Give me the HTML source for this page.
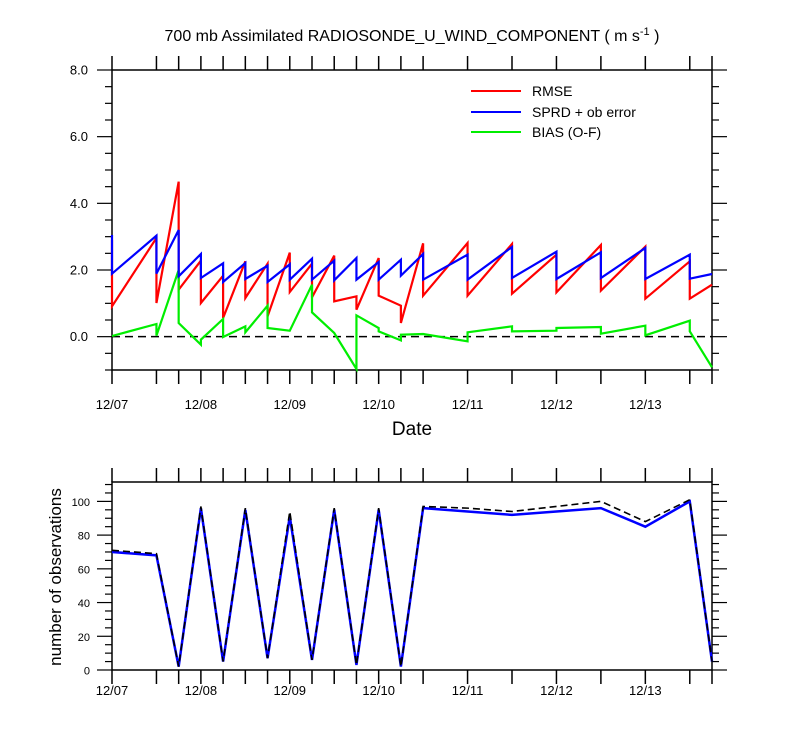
<!DOCTYPE html>
<html><head><meta charset="utf-8"><style>
body{margin:0;background:#fff;}
svg{display:block;font-family:"Liberation Sans",sans-serif;}
</style></head><body>
<svg id="chart" width="800" height="750" xmlns="http://www.w3.org/2000/svg">
<text x="412" y="41" text-anchor="middle" font-size="16">700 mb Assimilated RADIOSONDE_U_WIND_COMPONENT ( m s<tspan dy="-6" font-size="11">-1</tspan><tspan dy="6"> )</tspan></text>
<text x="412" y="435" text-anchor="middle" font-size="19">Date</text>
<text transform="translate(61,577) rotate(-90)" text-anchor="middle" font-size="17">number of observations</text>
<g id="legend">
<line x1="471" y1="91" x2="521" y2="91" stroke="#ff0000" stroke-width="2"/>
<text x="532" y="96" font-size="14">RMSE</text>
<line x1="471" y1="112" x2="521" y2="112" stroke="#0000ff" stroke-width="2"/>
<text x="532" y="117" font-size="14">SPRD + ob error</text>
<line x1="471" y1="132" x2="521" y2="132" stroke="#00ee00" stroke-width="2"/>
<text x="532" y="137" font-size="14">BIAS (O-F)</text>
</g>
</svg>
<script>
// times in hours since 12/07 00Z
const times = [0,12,18,24,30,36,42,48,54,60,66,72,78,84,96,108,120,132,144,156,162];
const rmsePrior = [2.9,2.96,4.65,2.28,1.83,2.26,2.19,2.52,2.19,2.43,1.21,2.36,0.93,2.80,2.81,2.78,2.46,2.75,2.70,2.26,1.56];
const rmsePost  = [0.91,1.01,1.41,1.01,0.56,1.16,0.61,1.34,1.18,1.06,0.81,1.23,0.41,1.23,1.23,1.29,1.33,1.38,1.14,1.14,1.56];
const sprdPrior = [3.05,3.03,3.2,2.48,2.2,2.21,2.13,2.17,2.34,2.28,2.36,2.24,2.31,2.48,2.46,2.69,2.55,2.53,2.66,2.46,1.88];
const sprdPost  = [1.89,1.89,1.81,1.76,1.64,1.73,1.64,1.71,1.71,1.69,1.71,1.71,1.83,1.71,1.71,1.76,1.73,1.76,1.73,1.74,1.88];
const biasPrior = [0.02,0.38,2.0,-0.24,0.53,0.31,0.93,0.18,1.56,0.11,-0.97,0.26,-0.11,0.08,-0.14,0.31,0.18,0.29,0.33,0.48,-0.92];
const biasPost  = [0.02,0.03,0.41,-0.09,-0.01,0.13,0.26,0.18,0.73,0.11,0.64,0.16,0.06,0.08,0.13,0.16,0.26,0.09,0.04,0.16,-0.92];
const obsUsed   = [70,68,2,96,5,95,7,91,6,95,3,95,2,96,94,92,94,96,85,100,5];
const obsTotal  = [71,69,2,97,5,96,7,94,6,96,3,96,2,97,96,94,97,100,88,101,5];
const dateLabels = ["12/07","12/08","12/09","12/10","12/11","12/12","12/13"];
const topYTicks = ["0.0","2.0","4.0","6.0","8.0"];
const botYTicks = ["0","20","40","60","80","100"];

const NS="http://www.w3.org/2000/svg";
const svg=document.getElementById('chart');
const X0=112,X1=712,HMAX=162;
const xs=h=>X0+(h/HMAX)*(X1-X0);
const T={top:70,bot:370,min:-1,max:8};
const B={top:482,bot:670,min:0,max:111.5};
const yT=v=>T.bot-(v-T.min)/(T.max-T.min)*(T.bot-T.top);
const yB=v=>B.bot-(v-B.min)/(B.max-B.min)*(B.bot-B.top);
function mk(tag,attrs,parent){const e=document.createElementNS(NS,tag);for(const k in attrs)e.setAttribute(k,attrs[k]);(parent||svg).appendChild(e);return e;}

function frame(P,yf,ticks,step,minorStep,name,fmtNum,labOff){
  const g=mk('g',{});
  
  
  const r=mk('rect',{x:X0,y:P.top,width:X1-X0,height:P.bot-P.top,fill:'none',stroke:'#000','stroke-width':1.5},g);
  
  
  for(let v=P.min;v<=P.max+1e-9;v+=minorStep){
    const vv=Math.round(v*1000)/1000;
    const y=yf(vv);
    const major=Math.abs(vv/step-Math.round(vv/step))<1e-6;
    const len=major?15:7;
    mk('line',{x1:X0-len,y1:y,x2:X0,y2:y,stroke:'#000','stroke-width':1.2},g);
    mk('line',{x1:X1,y1:y,x2:X1+len,y2:y,stroke:'#000','stroke-width':1.2},g);
  }
  ticks.forEach(t=>{
    const y=yf(parseFloat(t));
    const tx=mk('text',{x:fmtNum?88:90,y:y+4.5,'text-anchor':'end','font-size':fmtNum?13:11},g);
    
    
    tx.textContent=t;
  });
  times.forEach(h=>{
    const x=xs(h);
    mk('line',{x1:x,y1:P.top-14,x2:x,y2:P.top,stroke:'#000','stroke-width':1.5},g);
    mk('line',{x1:x,y1:P.bot,x2:x,y2:P.bot+14,stroke:'#000','stroke-width':1.5},g);
  });
  dateLabels.forEach((d,i)=>{
    const tx=mk('text',{x:xs(i*24),y:P.bot+labOff,'text-anchor':'middle','font-size':13},g);
    
    
    tx.textContent=d;
  });
}
frame(T,yT,topYTicks,2,0.5,'top-panel',true,39);
frame(B,yB,botYTicks,20,5,'bottom-panel',false,25);

const z=mk('line',{x1:X0,y1:yT(0),x2:X1,y2:yT(0),stroke:'#000','stroke-width':1.5,'stroke-dasharray':'8,5'});



function saw(prior,post,color,name){
  let d='';
  times.forEach((h,i)=>{
    const x=xs(h);
    d+=(i===0?'M':'L')+x+','+yT(prior[i])+' L'+x+','+yT(post[i])+' ';
  });
  const p=mk('path',{d:d,fill:'none',stroke:color,'stroke-width':2.2,'stroke-linejoin':'miter'});
  
  
}
saw(rmsePrior,rmsePost,'#ff0000','rmse-line');
saw(biasPrior,biasPost,'#00ee00','bias-line');
saw(sprdPrior,sprdPost,'#0000ff','spread-line');

function line(vals,color,dash,w,name){
  const d=vals.map((v,i)=>(i?'L':'M')+xs(times[i])+','+yB(v)).join(' ');
  const p=mk('path',{d:d,fill:'none',stroke:color,'stroke-width':w});
  if(dash)p.setAttribute('stroke-dasharray',dash);
  
  
}
line(obsUsed,'#0000ff',null,2.5,'obs-used-line');
line(obsTotal,'#000','7,4',1.6,'obs-total-line');
</script>
</body></html>
